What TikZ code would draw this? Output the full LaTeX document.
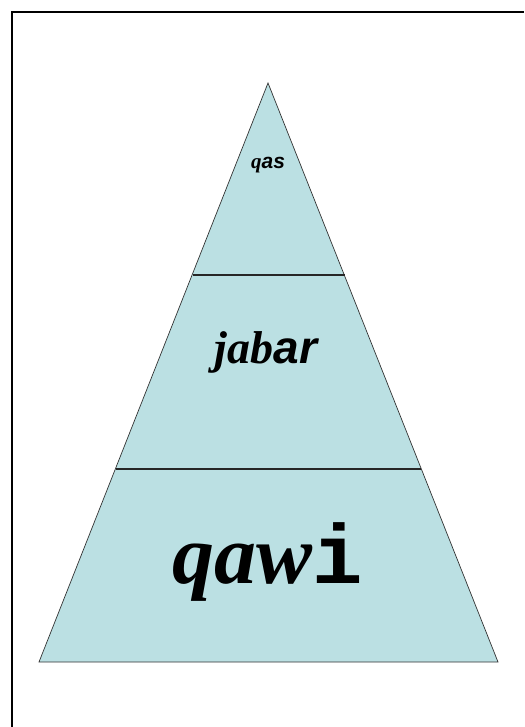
\documentclass[tikz,border=0pt]{standalone}
\usepackage{fontspec}
\setmainfont{Liberation Serif}
\newfontfamily\slabmono{Liberation Mono}
\newfontfamily\plainsans{Liberation Sans}
\begin{document}
\begin{tikzpicture}[x=1pt,y=-1pt,
  tier/.style={fill=tierfill,draw=black!80,line width=0.7pt,line join=miter},
  divider/.style={draw=black!85,line width=1.1pt},
  frameline/.style={draw=black,line width=1.6pt},
  label/.style={inner sep=0pt,anchor=base,font=\bfseries\itshape}]
\definecolor{tierfill}{HTML}{BBE0E3}
\useasboundingbox (0,0) rectangle (524,727);
% page frame (left and top edges only)
\draw[frameline] (12,727) -- (12,12) -- (524,12);
% pyramid corners and tier boundaries
\coordinate (apex) at (268,83);
\coordinate (bl) at (39,662);
\coordinate (br) at (498,662);
\coordinate (ul) at (192.5,275);
\coordinate (ur) at (344.5,275);
\coordinate (ml) at (115.5,469);
\coordinate (mr) at (421,469);
\filldraw[tier] (apex) -- (br) -- (bl) -- cycle;
\draw[divider] (ul) -- (ur);
\draw[divider] (ml) -- (mr);
% tier labels
\node[label,font=\bfseries\itshape\fontsize{21}{24}\selectfont] (top) at (268,169) {q{\plainsans\bfseries\itshape as}};
\node[label,font=\bfseries\itshape\fontsize{46}{52}\selectfont] (mid) at (266,363) {jab{\plainsans\bfseries\itshape ar}};
\node[label,font=\bfseries\itshape\fontsize{84}{94}\selectfont] (low) at (268,583) {qaw{\slabmono\bfseries\upshape i}};
\end{tikzpicture}
\end{document}
